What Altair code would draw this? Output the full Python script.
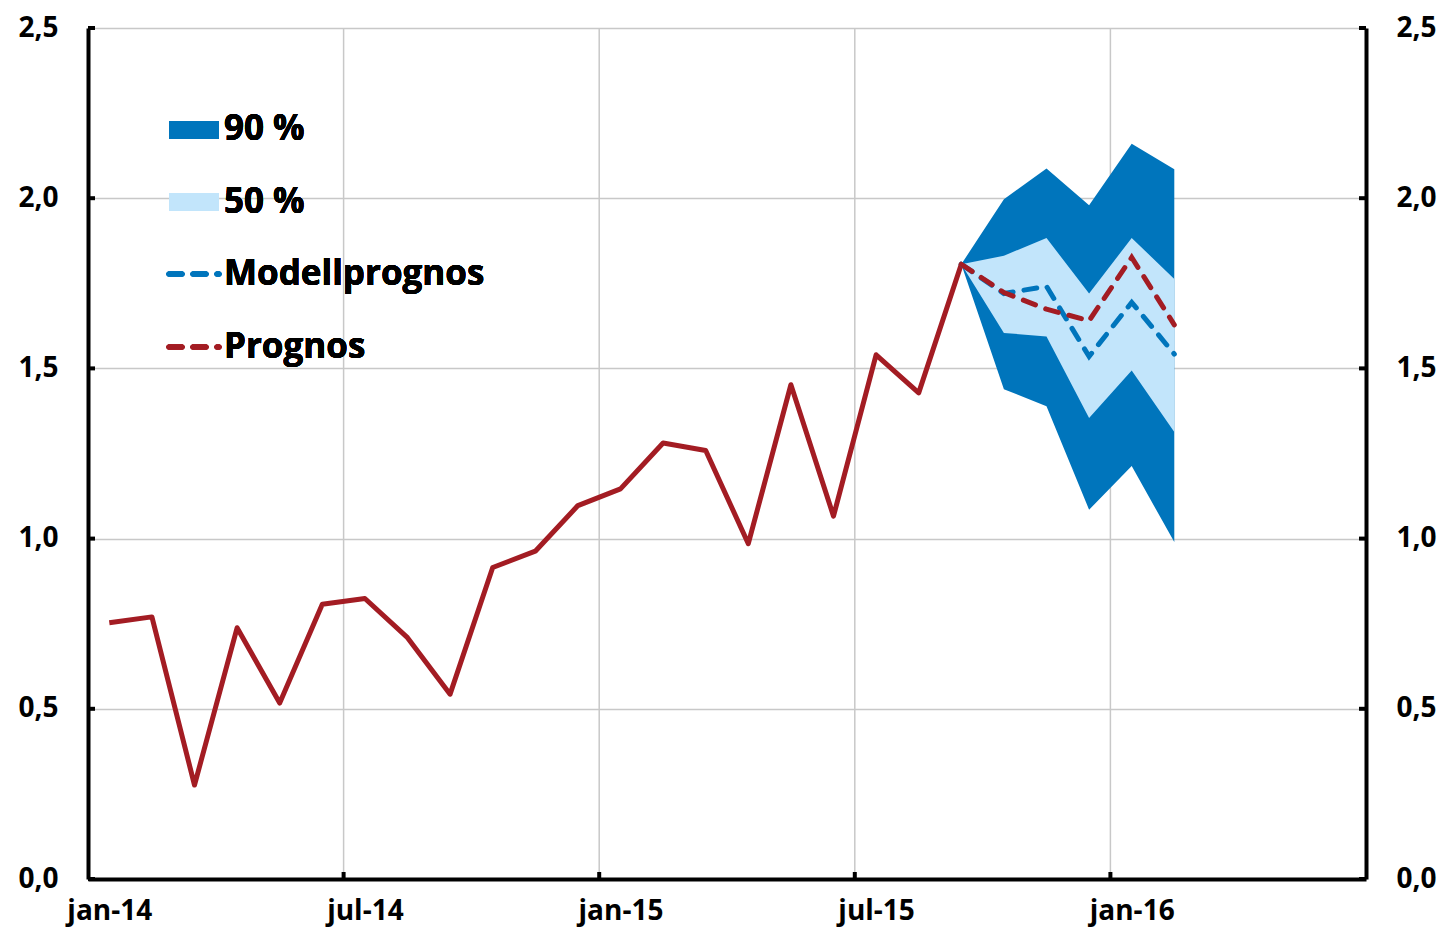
import altair as alt
import pandas as pd

# ---------------- data ----------------
months = ["jan", "feb", "mar", "apr", "maj", "jun", "jul", "aug", "sep", "okt", "nov", "dec"]
n_cat = 30  # jan-14 .. jun-16
cat_labels = [f"{months[i % 12]}-{14 + i // 12}" for i in range(n_cat)]
label_idx = [0, 6, 12, 18, 24]
grid_idx = [5.5, 11.5, 17.5, 23.5]
y_ticks = [0.0, 0.5, 1.0, 1.5, 2.0, 2.5]

actual = [0.753, 0.770, 0.276, 0.738, 0.517, 0.807, 0.824, 0.709, 0.543, 0.915,
          0.963, 1.097, 1.146, 1.281, 1.259, 0.985, 1.452, 1.066, 1.540, 1.428, 1.806]
fc_idx = [20, 21, 22, 23, 24, 25]
prognos = [1.806, 1.723, 1.674, 1.640, 1.826, 1.628]
modell = [1.806, 1.720, 1.741, 1.535, 1.694, 1.542]
hi90 = [1.806, 1.997, 2.087, 1.979, 2.160, 2.085]
lo90 = [1.806, 1.439, 1.389, 1.085, 1.213, 0.990]
hi50 = [1.806, 1.831, 1.883, 1.720, 1.883, 1.763]
lo50 = [1.806, 1.604, 1.594, 1.354, 1.494, 1.313]

legend_labels = ["90 %", "50 %", "Modellprognos", "Prognos"]

# ---------------- style ----------------
W, H = 1278, 851
FONT = "Open Sans"
FS = 28
RED = "#A31C23"
BLUE = "#0075BC"
LIGHT = "#C2E5FB"
GRID = "#C8C8C8"

df_act = pd.DataFrame({"i": list(range(len(actual))), "v": actual})
df_fc = pd.DataFrame({"i": fc_idx, "prog": prognos, "modell": modell,
                      "hi90": hi90, "lo90": lo90, "hi50": hi50, "lo50": lo50})
df_grid = pd.DataFrame({"b": grid_idx})
df_yt = pd.DataFrame({"t": y_ticks})

label_map = "{" + ",".join(f"'{i}':'{cat_labels[i]}'" for i in label_idx) + "}"

xscale = alt.Scale(domain=[-0.5, n_cat - 0.5], nice=False, zero=False)
yscale = alt.Scale(domain=[0, 2.5], nice=False, zero=True)

x_axis = alt.Axis(values=label_idx, labelExpr=f"{label_map}[''+datum.value]",
                  grid=False, ticks=False, domainColor="black", domainWidth=4,
                  labelFont=FONT, labelFontWeight="bold", labelFontSize=FS,
                  labelColor="black", labelPadding=18, title=None, labelFlush=False)
y_axis_l = alt.Axis(values=y_ticks, labelExpr="replace(format(datum.value, '.1f'), '.', ',')",
                    grid=True, gridColor=GRID, gridWidth=1.5, ticks=False,
                    domainColor="black", domainWidth=4, labelFont=FONT,
                    labelFontWeight="bold", labelFontSize=FS, labelColor="black",
                    labelPadding=30, title=None, orient="left")
y_axis_r = alt.Axis(values=y_ticks, labelExpr="replace(format(datum.value, '.1f'), '.', ',')",
                    grid=False, ticks=False, domainColor="black", domainWidth=4,
                    labelFont=FONT, labelFontWeight="bold", labelFontSize=FS,
                    labelColor="black", labelPadding=30, title=None, orient="right")

def X(field):
    return alt.X(f"{field}:Q", scale=xscale, axis=x_axis)

def YL(field):
    return alt.Y(f"{field}:Q", scale=yscale, axis=y_axis_l)

vgrid = alt.Chart(df_grid).mark_rule(color=GRID, strokeWidth=1.5).encode(
    x=X("b"), y=alt.value(0), y2=alt.value(H))

band90 = alt.Chart(df_fc).mark_area(color=BLUE, opacity=1).encode(
    x=X("i"), y=YL("lo90"), y2="hi90:Q")
band50 = alt.Chart(df_fc).mark_area(color=LIGHT, opacity=1).encode(
    x=X("i"), y=YL("lo50"), y2="hi50:Q")

line_act = alt.Chart(df_act).mark_line(color=RED, strokeWidth=5, strokeJoin="round").encode(
    x=X("i"), y=YL("v"))
line_mod = alt.Chart(df_fc).mark_line(color=BLUE, strokeWidth=5, strokeDash=[13, 11],
                                      strokeCap="round").encode(x=X("i"), y=YL("modell"))
line_prog = alt.Chart(df_fc).mark_line(color=RED, strokeWidth=5, strokeDash=[13, 11],
                                       strokeCap="round").encode(x=X("i"), y=YL("prog"))

xticks = alt.Chart(df_grid).mark_rule(color="black", strokeWidth=4).encode(
    x=X("b"), y=alt.value(H), y2=alt.value(H - 7))
ylticks = alt.Chart(df_yt).mark_rule(color="black", strokeWidth=4).encode(
    y=YL("t"), x=alt.value(0), x2=alt.value(7))

# legend (drawn in pixel space inside the plot)
leg_fs = 35
leg = []
leg.append(alt.Chart(df_yt).mark_rect(color=BLUE).encode(
    x=alt.value(81), x2=alt.value(131), y=alt.value(93), y2=alt.value(111)))
leg.append(alt.Chart(df_yt).mark_rect(color=LIGHT).encode(
    x=alt.value(81), x2=alt.value(131), y=alt.value(165), y2=alt.value(183)))
leg.append(alt.Chart(df_yt).mark_rule(color=BLUE, strokeWidth=5, strokeDash=[13, 11],
                                      strokeCap="round").encode(
    x=alt.value(81), x2=alt.value(131), y=alt.value(246)))
leg.append(alt.Chart(df_yt).mark_rule(color=RED, strokeWidth=5, strokeDash=[13, 11],
                                      strokeCap="round").encode(
    x=alt.value(81), x2=alt.value(131), y=alt.value(319)))
for lab, yy in zip(legend_labels, [101, 174, 246, 319]):
    leg.append(alt.Chart(df_yt).mark_text(text=lab, align="left", baseline="middle",
                                          font=FONT, fontWeight="bold", fontSize=leg_fs,
                                          color="black").encode(
        x=alt.value(136), y=alt.value(yy)))

left = alt.layer(vgrid, band90, band50, line_act, line_mod, line_prog, xticks, ylticks, *leg)

right = alt.Chart(df_yt).mark_rule(color="black", strokeWidth=4).encode(
    y=alt.Y("t:Q", scale=yscale, axis=y_axis_r), x=alt.value(W - 7), x2=alt.value(W))

chart = alt.layer(left, right).resolve_scale(y="independent").resolve_axis(y="independent").properties(
    width=W, height=H,
    autosize=alt.AutoSizeParams(type="none"),
    padding={"left": 80, "top": 20, "right": 74, "bottom": 49},
).configure_view(stroke=None).configure(background="white")

chart.save("out.html", embed_options={"renderer": "svg", "actions": False})
